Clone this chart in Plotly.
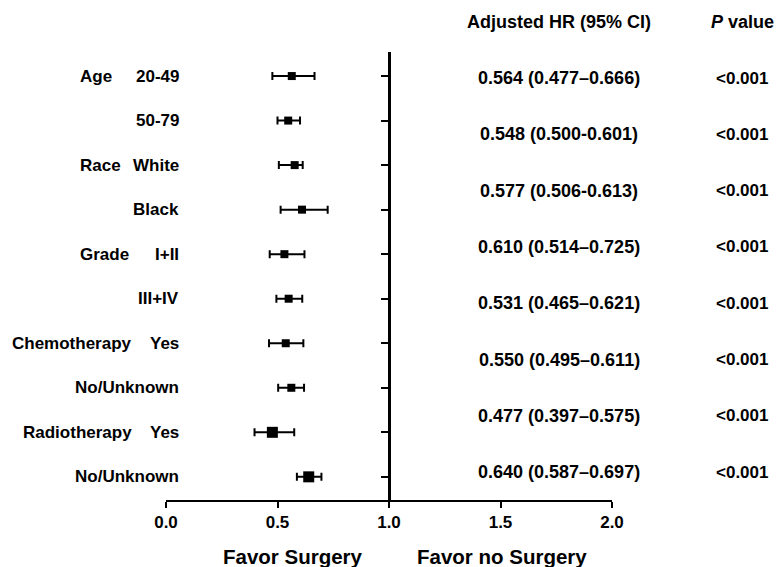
import plotly.graph_objects as go

# ---- data ----
categories = ["Age", "", "Race", "", "Grade", "", "Chemotherapy", "", "Radiotherapy", ""]
subgroups = ["20-49", "50-79", "White", "Black", "I+II", "III+IV", "Yes", "No/Unknown", "Yes", "No/Unknown"]
hr = [0.564, 0.548, 0.577, 0.610, 0.531, 0.550, 0.537, 0.562, 0.477, 0.640]
ci_low = [0.477, 0.500, 0.506, 0.514, 0.465, 0.495, 0.462, 0.503, 0.397, 0.587]
ci_high = [0.666, 0.601, 0.613, 0.725, 0.621, 0.611, 0.616, 0.619, 0.575, 0.697]

hr_text = ["0.564 (0.477\u20130.666)", "0.548 (0.500-0.601)", "0.577 (0.506-0.613)",
           "0.610 (0.514\u20130.725)", "0.531 (0.465\u20130.621)", "0.550 (0.495\u20130.611)",
           "0.477 (0.397\u20130.575)", "0.640 (0.587\u20130.697)"]
p_text = ["<0.001"] * 8
x_ticks = [0.0, 0.5, 1.0, 1.5, 2.0]
x_ticklabels = ["0.0", "0.5", "1.0", "1.5", "2.0"]

# ---- figure ----
W, H = 778, 567
ML, MR, MT, MB = 166, 166, 52, 67
rows = list(range(1, len(subgroups) + 1))
marker_sizes = [8] * 8 + [11] * 2

FONT = "Arial, Liberation Sans, sans-serif"

fig = go.Figure()
fig.add_trace(go.Scatter(
    x=hr, y=rows, mode="markers",
    marker=dict(symbol="square", size=marker_sizes, color="black", opacity=1,
                line=dict(width=0)),
    error_x=dict(type="data", symmetric=False,
                 array=[h - m for h, m in zip(ci_high, hr)],
                 arrayminus=[m - l for m, l in zip(hr, ci_low)],
                 color="black", thickness=2, width=4),
    showlegend=False, hoverinfo="skip", cliponaxis=False,
))

plot_w = W - ML - MR
plot_h = H - MT - MB


def px_to_paper_x(p):
    return (p - ML) / plot_w


def px_to_paper_y(p):
    return 1 - (p - MT) / plot_h


annotations = []
# subgroup labels (right aligned)
for r, s in zip(rows, subgroups):
    annotations.append(dict(x=px_to_paper_x(181), xref="paper", y=r, yref="y",
                            text=s, showarrow=False, xanchor="right", yanchor="middle",
                            font=dict(family=FONT, size=17, color="black", weight="bold")))
# category labels
for r, c in zip(rows, categories):
    if not c:
        continue
    if len(c) > 6:
        xa, xp = "right", 134
    else:
        xa, xp = "left", 78
    annotations.append(dict(x=px_to_paper_x(xp), xref="paper", y=r, yref="y",
                            text=c, showarrow=False, xanchor=xa, yanchor="middle",
                            font=dict(family=FONT, size=17, color="black", weight="bold")))
# right-hand text columns (8 evenly spaced rows)
top_px, step_px = 78, 56.3
for i, (t, p) in enumerate(zip(hr_text, p_text)):
    yp = px_to_paper_y(top_px + i * step_px)
    annotations.append(dict(x=px_to_paper_x(559), xref="paper", y=yp, yref="paper",
                            text=t, showarrow=False, xanchor="center", yanchor="middle",
                            font=dict(family=FONT, size=18, color="black", weight="bold")))
    annotations.append(dict(x=px_to_paper_x(742), xref="paper", y=yp, yref="paper",
                            text=p, showarrow=False, xanchor="center", yanchor="middle",
                            font=dict(family=FONT, size=17, color="black", weight="bold")))
# headers
annotations.append(dict(x=px_to_paper_x(559), xref="paper", y=px_to_paper_y(22), yref="paper",
                        text="Adjusted HR (95% CI)", showarrow=False, xanchor="center", yanchor="middle",
                        font=dict(family=FONT, size=18, color="black", weight="bold")))
annotations.append(dict(x=px_to_paper_x(742), xref="paper", y=px_to_paper_y(22), yref="paper",
                        text="<i>P</i> value", showarrow=False, xanchor="center", yanchor="middle",
                        font=dict(family=FONT, size=18, color="black", weight="bold")))
# favor labels
annotations.append(dict(x=px_to_paper_x(293), xref="paper", y=px_to_paper_y(556), yref="paper",
                        text="Favor Surgery", showarrow=False, xanchor="center", yanchor="middle",
                        font=dict(family=FONT, size=20.5, color="black", weight="bold")))
annotations.append(dict(x=px_to_paper_x(502), xref="paper", y=px_to_paper_y(556), yref="paper",
                        text="Favor no Surgery", showarrow=False, xanchor="center", yanchor="middle",
                        font=dict(family=FONT, size=20.5, color="black", weight="bold")))

fig.update_layout(
    width=W, height=H,
    margin=dict(l=ML, r=MR, t=MT, b=MB, pad=0),
    paper_bgcolor="white", plot_bgcolor="white",
    annotations=annotations,
    xaxis=dict(range=[0, 2], tickvals=x_ticks, ticktext=x_ticklabels,
               showgrid=False, zeroline=False, showline=True, linecolor="black", linewidth=2,
               ticks="outside", ticklen=6, tickwidth=2, tickcolor="black",
               tickfont=dict(family=FONT, size=17, color="black", weight="bold"),
               fixedrange=True),
    yaxis=dict(range=[10.52, 0.46], tickvals=rows, showticklabels=False,
               showgrid=False, zeroline=False, showline=True, linecolor="black", linewidth=2.5,
               ticks="outside", ticklen=7, tickwidth=2, tickcolor="black",
               anchor="free", position=0.5, fixedrange=True),
)

fig.write_html("out.html")
